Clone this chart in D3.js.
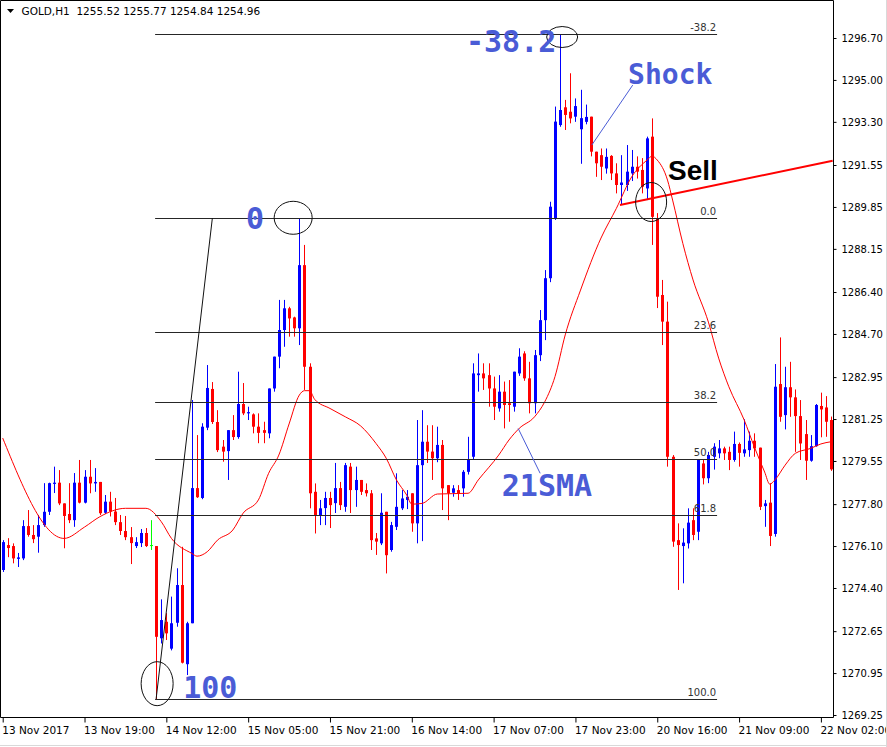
<!DOCTYPE html>
<html><head><meta charset="utf-8">
<script src="https://cdn.jsdelivr.net/npm/d3@7/dist/d3.min.js"></script>
<style>
html,body{margin:0;padding:0;background:#fff;}
svg{display:block;}
</style></head>
<body><svg id="c" width="887" height="747"></svg>
<script>
// ---------- DATA ----------
const symbolTitle = "GOLD,H1  1255.52 1255.77 1254.84 1254.96";
const openP = [1275.13,1276.14,1276.10,1275.58,1275.60,1276.91,1276.55,1276.48,1276.95,1277.49,
1278.62,1278.67,1277.83,1277.40,1277.15,1278.67,1277.86,1278.91,1278.64,1278.70,
1277.45,1277.90,1277.50,1277.07,1276.71,1276.46,1276.10,1276.22,1276.63,1276.14,
1276.10,1272.36,1273.03,1271.94,1272.99,1274.52,1271.31,1272.97,1278.45,1278.05,
1280.90,1282.47,1281.13,1280.13,1279.95,1280.80,1280.52,1281.86,1281.48,1281.44,
1280.94,1280.80,1280.67,1282.49,1283.78,1284.86,1285.74,1285.37,1284.93,1287.49,
1283.37,1278.30,1277.36,1277.64,1278.05,1277.84,1278.45,1277.69,1279.32,1278.37,
1278.78,1278.37,1278.24,1276.41,1276.21,1277.49,1275.94,1276.88,1277.63,1277.97,
1278.24,1277.02,1279.38,1280.33,1279.93,1279.66,1280.20,1278.57,1278.26,1278.37,
1278.44,1279.11,1279.72,1283.03,1283.10,1283.03,1282.49,1281.68,1282.36,1281.89,
1281.75,1283.10,1283.91,1282.90,1281.89,1283.84,1285.26,1286.96,1289.39,1293.17,
1293.89,1293.71,1293.51,1293.00,1293.30,1293.51,1292.09,1291.95,1291.41,1291.92,
1291.21,1290.74,1290.74,1291.21,1291.48,1291.35,1290.60,1292.70,1289.39,1286.28,
1285.20,1279.72,1276.34,1276.10,1276.21,1277.15,1276.68,1279.45,1278.85,1279.72,
1279.86,1280.06,1279.92,1279.59,1280.24,1279.86,1279.99,1280.37,1280.09,1277.72,
1277.86,1276.59,1282.67,1281.41,1282.54,1282.13,1281.37,1280.64,1279.56,1280.15,
1281.78,1281.72,1281.21];
const highP = [1276.34,1276.42,1276.21,1275.82,1277.15,1277.56,1276.95,1277.36,1278.65,1278.67,
1279.32,1279.18,1277.83,1278.65,1279.06,1279.59,1279.18,1279.59,1279.26,1278.70,
1278.17,1278.30,1278.05,1277.36,1277.32,1276.87,1276.46,1276.79,1276.83,1277.15,
1276.10,1273.94,1273.38,1274.05,1275.20,1276.07,1273.03,1282.02,1280.60,1281.08,
1283.44,1282.75,1281.61,1280.40,1280.80,1281.41,1283.17,1282.71,1281.75,1281.48,
1281.48,1281.14,1282.49,1283.78,1286.08,1286.08,1285.80,1285.40,1289.40,1288.31,
1283.51,1278.64,1277.97,1278.30,1278.30,1279.47,1278.70,1279.47,1279.47,1279.32,
1278.78,1278.64,1278.37,1276.63,1278.24,1277.49,1277.08,1279.05,1278.37,1278.37,
1278.24,1281.21,1281.61,1281.00,1281.00,1280.94,1280.40,1278.57,1278.57,1278.57,
1279.18,1280.53,1283.51,1283.91,1283.51,1283.51,1282.97,1283.03,1282.77,1282.83,
1283.17,1284.12,1284.00,1283.57,1284.05,1285.67,1287.29,1290.06,1293.92,1296.85,
1294.19,1295.27,1294.25,1294.60,1294.00,1293.51,1292.09,1292.22,1292.22,1291.95,
1291.62,1291.95,1292.36,1292.16,1291.90,1291.83,1292.70,1293.44,1289.60,1286.89,
1286.01,1279.79,1277.02,1276.82,1277.63,1277.63,1279.59,1279.60,1279.92,1280.27,
1280.40,1280.13,1280.13,1280.74,1280.30,1281.24,1280.74,1280.67,1280.09,1277.97,
1278.64,1283.48,1284.56,1283.37,1283.57,1282.45,1282.02,1281.21,1280.60,1281.86,
1282.32,1282.18,1281.35];
const lowP = [1275.05,1275.65,1275.40,1275.25,1275.53,1276.48,1276.22,1275.83,1276.88,1277.36,
1278.25,1277.76,1276.01,1277.03,1276.88,1277.83,1277.83,1278.24,1278.30,1277.36,
1277.40,1277.30,1276.95,1276.55,1276.34,1275.37,1276.02,1276.06,1276.06,1275.94,
1269.90,1272.15,1272.29,1271.87,1272.83,1271.34,1270.87,1272.97,1278.05,1278.00,
1280.80,1281.05,1279.91,1279.52,1278.78,1280.40,1280.45,1281.41,1281.21,1280.67,
1280.27,1280.27,1280.47,1282.36,1283.31,1284.18,1284.59,1284.59,1284.25,1282.43,
1277.63,1276.61,1276.95,1276.95,1276.83,1277.44,1277.56,1277.49,1277.44,1277.69,
1278.17,1278.11,1275.94,1275.74,1276.14,1274.99,1275.87,1276.75,1277.56,1277.60,
1276.68,1276.21,1276.30,1279.47,1278.78,1279.50,1277.56,1277.15,1278.10,1277.97,
1278.10,1279.00,1279.59,1282.36,1282.43,1281.75,1281.21,1281.55,1280.87,1281.14,
1281.55,1283.00,1282.80,1281.48,1281.48,1283.60,1284.45,1286.80,1289.32,1293.10,
1292.97,1293.24,1293.30,1291.60,1293.20,1291.90,1291.07,1290.94,1291.20,1290.94,
1290.40,1289.93,1290.50,1290.90,1291.00,1290.40,1290.13,1288.31,1285.75,1284.25,
1279.32,1276.07,1274.32,1274.59,1276.00,1276.34,1276.34,1278.60,1278.65,1279.20,
1279.66,1279.59,1279.18,1279.52,1279.32,1279.72,1279.72,1279.72,1277.56,1276.88,
1276.10,1276.48,1281.14,1280.83,1281.34,1279.92,1279.59,1278.78,1279.52,1280.13,
1280.51,1280.53,1279.15];
const closeP = [1276.26,1276.02,1275.60,1275.64,1276.91,1276.55,1276.38,1276.95,1277.49,1278.65,
1278.67,1277.83,1277.32,1277.15,1278.67,1277.86,1278.91,1278.64,1278.70,1277.43,
1277.90,1277.50,1277.07,1276.71,1276.46,1276.22,1276.26,1276.63,1276.10,1276.14,
1272.42,1273.10,1272.56,1272.97,1274.52,1271.37,1272.97,1278.45,1278.08,1280.94,
1282.51,1281.13,1279.99,1279.93,1280.80,1280.52,1281.86,1281.48,1281.53,1280.94,
1280.69,1280.69,1282.49,1283.78,1284.86,1285.74,1285.33,1284.93,1287.49,1283.37,
1278.24,1277.36,1277.63,1278.05,1277.76,1278.45,1277.76,1279.38,1278.37,1278.78,
1278.30,1278.24,1276.34,1276.28,1277.45,1275.73,1276.95,1277.69,1278.03,1278.10,
1277.02,1279.38,1280.33,1279.93,1279.66,1280.20,1278.44,1278.24,1278.44,1278.21,
1279.11,1279.59,1283.10,1283.10,1282.90,1282.49,1281.75,1282.36,1281.82,1281.82,
1283.17,1283.78,1282.90,1281.89,1283.84,1285.26,1286.96,1289.86,1293.31,1293.78,
1293.58,1293.44,1293.94,1293.45,1293.50,1292.09,1291.62,1291.48,1291.88,1291.21,
1290.74,1290.84,1291.28,1291.48,1291.28,1290.67,1292.63,1289.45,1286.21,1285.20,
1279.72,1276.28,1276.14,1276.24,1277.05,1276.55,1279.59,1278.85,1279.79,1280.13,
1280.06,1279.86,1279.59,1280.24,1279.88,1280.02,1280.37,1280.06,1277.69,1277.83,
1276.51,1282.56,1281.34,1282.54,1282.13,1281.37,1280.26,1279.56,1280.15,1281.82,
1281.64,1281.14,1279.21];

// 21-period SMA (bar index, price)
const smaBars = [0,12,16,19,24,28,31,33,37,38,40,42,45,47,50,52,54,56,58,59,60,61,64,67,70,73,75,77,79,80,82,85,91,93,97,99,101,104,106,108,110,113,117,120,123,126,127,128,130,131,133,135,138,140,142,145,147,149,150,151,153,155,158,160,162];
const smaValues = [1280.48,1276.41,1276.87,1277.29,1277.63,1277.63,1277.09,1276.41,1275.80,1275.69,1275.87,1276.34,1276.75,1277.43,1277.97,1279.05,1279.79,1281.05,1282.22,1282.40,1282.40,1282.05,1281.68,1281.34,1280.97,1280.26,1279.66,1278.78,1278.17,1277.80,1277.83,1278.21,1278.24,1278.78,1279.79,1280.40,1280.87,1281.34,1281.95,1282.97,1284.66,1286.48,1288.59,1289.79,1291.07,1291.75,1291.91,1291.75,1290.94,1290.13,1288.37,1286.89,1285.18,1283.72,1282.56,1281.21,1280.11,1279.10,1278.61,1278.78,1279.38,1279.86,1280.06,1280.24,1280.33];

// axes
const priceTicks = [1296.70,1295.00,1293.30,1291.55,1289.85,1288.15,1286.40,1284.70,1282.95,1281.25,1279.55,1277.80,1276.10,1274.40,1272.65,1270.95,1269.25];
const timeTickBars = [0,16,32,48,64,80,96,112,128,144,160];
const timeLabels = ["13 Nov 2017","13 Nov 19:00","14 Nov 12:00","15 Nov 05:00","15 Nov 21:00","16 Nov 14:00","17 Nov 07:00","17 Nov 23:00","20 Nov 16:00","21 Nov 09:00","22 Nov 02:00"];

// Fibonacci retracement
const fibLowBar = 30, fibLowPrice = 1269.90;
const fibHighBar = 41, fibHighPrice = 1289.40;
const fibEndBar = 139.7;
const fibLevels = [-38.2, 0, 23.6, 38.2, 50, 61.8, 100];
const fibLabels = ["-38.2","0.0","23.6","38.2","50.0","61.8","100.0"];

// Sell trend line
const sellBars = [120.7, 162.3];
const sellPrices = [1289.93, 1291.72];

// annotation ellipses: centre (bar, price)
const ellBars = [30.2, 56.8, 109.4, 126.8];
const ellPrices = [1270.52, 1289.41, 1296.74, 1290.05];

// annotation texts
const noteTexts = ["-38.2","Shock","0","100","21SMA"];
const noteBars = [90.6, 122.3, 47.6, 35.3, 97.6];
const notePrices = [1296.13, 1294.83, 1288.95, 1269.94, 1278.13];
const sellText = "Sell", sellTextBar = 130.1, sellTextPrice = 1290.94;

// connector lines [bar1, price1, bar2, price2]
const connectorBars = [[123.2,115.2],[100.8,105.1]];
const connectorPrices = [[1294.79,1292.36],[1280.87,1279.05]];

// ---------- DRAW ----------
const svg = d3.select("#c");
const W = 887, H = 747;
const plotR = 833, plotB = 717;
const x = d3.scaleLinear().domain([0,160]).range([2.7, 820.9]);
const y = d3.scaleLinear().domain([1269.25,1296.70]).range([715,38]);

svg.append("rect").attr("width",W).attr("height",H).attr("fill","#fff");
svg.append("defs").append("clipPath").attr("id","pc")
  .append("rect").attr("x",1).attr("y",1).attr("width",plotR-1).attr("height",plotB-1);

const plot = svg.append("g").attr("clip-path","url(#pc)");

// candles
const bars = d3.range(openP.length).map(i=>({i,o:openP[i],h:highP[i],l:lowP[i],c:closeP[i]}));
const col = d => d.c>d.o ? "#0000ff" : (d.c<d.o ? "#ff0000" : "#00ff00");
const cg = plot.append("g");
cg.selectAll("line.w").data(bars).join("line")
  .attr("x1",d=>Math.round(x(d.i))+0.5).attr("x2",d=>Math.round(x(d.i))+0.5)
  .attr("y1",d=>y(d.h)).attr("y2",d=>y(d.l))
  .attr("stroke",col).attr("stroke-width",1);
cg.selectAll("rect.b").data(bars).join("rect")
  .attr("x",d=>Math.round(x(d.i))-1).attr("width",3)
  .attr("y",d=>y(Math.max(d.o,d.c)))
  .attr("height",d=>Math.max(1,Math.abs(y(d.o)-y(d.c))))
  .attr("fill",col);

// SMA
plot.append("path")
  .datum(smaBars.map((b,k)=>[b,smaValues[k]]))
  .attr("d", d3.line().x(d=>x(d[0])).y(d=>y(d[1])).curve(d3.curveMonotoneX))
  .attr("fill","none").attr("stroke","#ff0000").attr("stroke-width",1);

// Fibonacci
const fibRange = fibHighPrice - fibLowPrice;
const fibStartX = x(Math.min(fibLowBar,fibHighBar)) - 1;
const fg = plot.append("g");
fibLevels.forEach((lv,k)=>{
  const p = fibHighPrice - lv/100*fibRange;
  const yy = Math.round(y(p))+0.5;
  fg.append("line").attr("x1",fibStartX).attr("x2",x(fibEndBar)).attr("y1",yy).attr("y2",yy)
    .attr("stroke","#262626").attr("stroke-width",1);
  fg.append("text").attr("x",x(fibEndBar)-1).attr("y",yy-4).attr("text-anchor","end")
    .attr("font-family","DejaVu Sans").attr("font-size",10).attr("fill","#333")
    .text(fibLabels[k]);
});
fg.append("line").attr("x1",x(fibLowBar)).attr("y1",y(fibLowPrice))
  .attr("x2",x(fibHighBar)).attr("y2",y(fibHighPrice))
  .attr("stroke","#111").attr("stroke-width",1);

// Sell trendline
plot.append("line").attr("x1",x(sellBars[0])).attr("y1",y(sellPrices[0]))
  .attr("x2",x(sellBars[1])).attr("y2",y(sellPrices[1]))
  .attr("stroke","#ff0000").attr("stroke-width",2);

// ellipses
const ellRx = [16,19,15.5,15.5], ellRy = [22,16.5,10.5,19.5];
ellBars.forEach((b,k)=>{
  plot.append("ellipse").attr("cx",x(b)).attr("cy",y(ellPrices[k]))
    .attr("rx",ellRx[k]).attr("ry",ellRy[k])
    .attr("fill","none").attr("stroke","#111").attr("stroke-width",1);
});

// connectors
connectorBars.forEach((b,k)=>{
  plot.append("line").attr("x1",x(b[0])).attr("y1",y(connectorPrices[k][0]))
    .attr("x2",x(b[1])).attr("y2",y(connectorPrices[k][1]))
    .attr("stroke","#4a5cd6").attr("stroke-width",1);
});

// notes
const noteSizes = [30,28,30,30,30];
noteTexts.forEach((t,k)=>{
  plot.append("text").attr("x",x(noteBars[k])).attr("y",y(notePrices[k]))
    .attr("font-family","DejaVu Sans Mono").attr("font-weight","bold").attr("font-size",noteSizes[k])
    .attr("fill","#4a5cd6").text(t);
});
plot.append("text").attr("x",x(sellTextBar)).attr("y",y(sellTextPrice))
  .attr("font-family","Liberation Sans").attr("font-weight","bold").attr("font-size",28)
  .attr("fill","#000").text(sellText);

// frame
svg.append("path").attr("d",`M0.5,${plotB+0.5}V0.5H${plotR+0.5}V${plotB+0.5}H0.5`)
  .attr("fill","none").attr("stroke","#000").attr("stroke-width",1);

// price axis
const ya = svg.append("g").attr("transform",`translate(${plotR+0.5},0)`)
  .call(d3.axisRight(y).tickValues(priceTicks).tickFormat(d=>d.toFixed(2)).tickSize(3).tickPadding(5));
ya.select(".domain").remove();
ya.selectAll(".tick line").attr("stroke","#000");
ya.selectAll(".tick text").attr("font-family","DejaVu Sans").attr("font-size",10).attr("fill","#000");

// time axis
const xa = svg.append("g").attr("transform",`translate(0,${plotB+0.5})`)
  .call(d3.axisBottom(x).tickValues(timeTickBars).tickFormat((d,k)=>timeLabels[k]).tickSize(5));
xa.select(".domain").remove();
xa.selectAll(".tick line").attr("stroke","#000");
xa.selectAll(".tick text").attr("text-anchor","start").attr("x",-1).attr("y",9.5)
  .attr("font-family","DejaVu Sans").attr("font-size",10.5).attr("fill","#000");

// header
svg.append("path").attr("d","M7,9 L14,9 L10.5,13 Z").attr("fill","#000");
svg.append("text").attr("x",21.5).attr("y",15).attr("font-family","DejaVu Sans").attr("font-size",10.5)
  .attr("fill","#000").attr("xml:space","preserve").style("white-space","pre").text(symbolTitle);

// outer window border
svg.append("line").attr("x1",886.5).attr("x2",886.5).attr("y1",0).attr("y2",H).attr("stroke","#d9d9d9");
svg.append("line").attr("x1",0).attr("x2",W).attr("y1",745.5).attr("y2",745.5).attr("stroke","#d9d9d9");
</script></body></html>
